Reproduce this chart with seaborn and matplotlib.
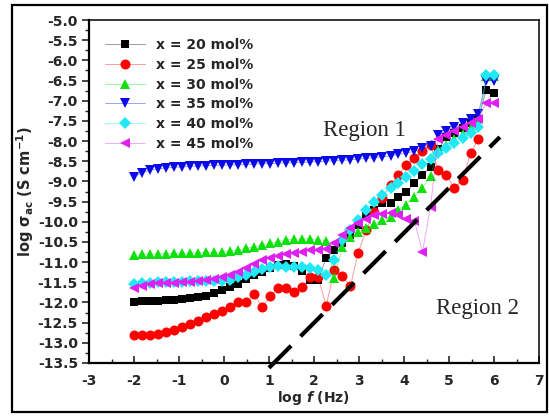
import numpy as np
import pandas as pd
import matplotlib
matplotlib.use("Agg")
import matplotlib.pyplot as plt
import matplotlib.colors as mcolors
import seaborn as sns
from matplotlib.patches import Rectangle
from matplotlib.ticker import MultipleLocator, FormatStrFormatter

sns.set_style("white")
plt.rcParams['font.family'] = ['DejaVu Sans']
plt.rcParams['axes.unicode_minus'] = False
plt.rcParams['mathtext.fontset'] = 'dejavusans'

# ---------------- data ----------------
log_f = [-2.00, -1.82, -1.64, -1.47, -1.29, -1.11, -0.93, -0.75, -0.58, -0.40,
         -0.22, -0.04, 0.14, 0.31, 0.49, 0.67, 0.85, 1.03, 1.20, 1.38,
         1.56, 1.74, 1.92, 2.09, 2.27, 2.45, 2.63, 2.81, 2.98, 3.16,
         3.34, 3.52, 3.70, 3.87, 4.05, 4.23, 4.41, 4.59, 4.76, 4.94,
         5.12, 5.30, 5.48, 5.65, 5.83, 6.01]

x20 = [-11.98, -11.97, -11.97, -11.96, -11.95, -11.94, -11.92, -11.90, -11.87, -11.83,
       -11.76, -11.69, -11.62, -11.53, -11.42, -11.33, -11.25, -11.15, -11.08, -11.05,
       -11.10, -11.22, -11.44, -11.44, -10.90, -10.70, -10.53, -10.33, -10.08, -9.85,
       -9.70, -9.54, -9.54, -9.38, -9.26, -9.05, -8.84, -8.64, -8.20, -7.90,
       -7.80, -7.68, -7.56, -7.45, -6.73, -6.81]

x25 = [-12.81, -12.81, -12.80, -12.77, -12.74, -12.68, -12.61, -12.54, -12.45, -12.37,
       -12.28, -12.20, -12.11, -12.00, -12.00, -11.79, -12.11, -11.84, -11.64, -11.64,
       -11.74, -11.62, -11.37, -11.37, -12.08, -11.20, -11.35, -11.60, -10.77, -10.20,
       -9.75, -9.40, -9.09, -8.84, -8.59, -8.43, -8.25, -8.10, -8.72, -8.84,
       -9.16, -8.97, -8.30, -7.95, np.nan, np.nan]

x30 = [-10.83, -10.80, -10.80, -10.79, -10.79, -10.78, -10.78, -10.77, -10.77, -10.76,
       -10.75, -10.74, -10.72, -10.70, -10.66, -10.62, -10.57, -10.53, -10.49, -10.45,
       -10.43, -10.42, -10.42, -10.44, -10.47, -11.40, -10.63, -10.38, -10.25, -10.15,
       -10.05, -9.95, -9.88, -9.70, -9.58, -9.38, -9.16, -8.86, -8.22, -8.10,
       -7.95, -7.82, -7.68, -7.55, -6.40, -6.40]

x35 = [-8.89, -8.78, -8.72, -8.69, -8.67, -8.65, -8.64, -8.63, -8.62, -8.61,
       -8.60, -8.60, -8.59, -8.59, -8.58, -8.57, -8.56, -8.56, -8.55, -8.54,
       -8.54, -8.53, -8.52, -8.51, -8.50, -8.49, -8.48, -8.46, -8.45, -8.43,
       -8.41, -8.39, -8.37, -8.33, -8.30, -8.25, -8.18, -8.12, -7.85, -7.75,
       -7.65, -7.55, -7.45, -7.32, -6.50, -6.52]

x40 = [-11.55, -11.52, -11.51, -11.50, -11.50, -11.49, -11.49, -11.48, -11.48, -11.48,
       -11.47, -11.46, -11.44, -11.38, -11.32, -11.25, -11.18, -11.12, -11.10, -11.12,
       -11.12, -11.12, -11.14, -11.20, -11.32, -10.95, -10.45, -10.20, -9.96, -9.70,
       -9.50, -9.34, -9.17, -9.03, -8.90, -8.75, -8.58, -8.45, -8.30, -8.17,
       -8.05, -7.93, -7.80, -7.65, -6.36, -6.36]

x45 = [-11.65, -11.58, -11.54, -11.52, -11.52, -11.51, -11.50, -11.49, -11.47, -11.45,
       -11.42, -11.38, -11.33, -11.25, -11.15, -11.05, -10.95, -10.89, -10.85, -10.81,
       -10.78, -10.75, -10.71, -10.70, -10.68, -10.53, -10.33, -10.15, -10.03, -9.92,
       -9.84, -9.80, -9.79, -9.84, -9.92, -9.98, -10.75, -9.63, -7.95, -7.85,
       -7.75, -7.65, -7.55, -7.45, -7.05, -7.05]

labels = ["x = 20 mol%", "x = 25 mol%", "x = 30 mol%",
          "x = 35 mol%", "x = 40 mol%", "x = 45 mol%"]
series = [x20, x25, x30, x35, x40, x45]
colors = ["#000000", "#ff0000", "#10e010", "#0a0ae8", "#20e8f4", "#e020f0"]
markers = ["s", "o", "^", "v", "D", "<"]
msizes = [6.3, 7.2, 7.5, 7.5, 6.6, 7.5]

x_ticks = [-3, -2, -1, 0, 1, 2, 3, 4, 5, 6, 7]

# dashed guide line end points
guide_x = [1.0, 6.13]
guide_y = [-13.62, -7.90]

# ---------------- figure ----------------
fig = plt.figure(figsize=(5.49, 4.16), dpi=100)
fig.patch.set_facecolor("white")
ax = fig.add_axes([89/549, 1-363/416, 450/549, 343/416])

for vals, lab, c, m, ms in zip(series, labels, colors, markers, msizes):
    df = pd.DataFrame({"x": log_f, "y": vals}).dropna()
    sns.lineplot(data=df, x="x", y="y", ax=ax, color=c, marker=m,
                 markersize=ms, markeredgewidth=0, linewidth=0.6,
                 label=lab, sort=False, estimator=None)
    line = ax.lines[-1]
    rgba = mcolors.to_rgba(c)
    line.set_color((rgba[0], rgba[1], rgba[2], 0.45))
    line.set_markerfacecolor(c)
    line.set_markeredgecolor(c)

ax.plot(guide_x, guide_y, color="black", lw=3.0, dashes=(7.5, 3.2),
        clip_on=False, solid_capstyle="butt", dash_capstyle="butt")

ax.set_xlim(-3, 7)
ax.set_ylim(-13.5, -5.0)
ax.set_xticks(x_ticks)
ax.xaxis.set_minor_locator(MultipleLocator(0.5))
ax.yaxis.set_major_locator(MultipleLocator(0.5))
ax.yaxis.set_minor_locator(MultipleLocator(0.25))
ax.yaxis.set_major_formatter(FormatStrFormatter("%.1f"))

ax.tick_params(axis="x", which="major", direction="in", length=5, width=1.2,
               pad=8, labelsize=10, bottom=True, top=False)
ax.tick_params(axis="x", which="minor", direction="in", length=3, width=1.0,
               bottom=True, top=False)
ax.tick_params(axis="y", which="major", direction="out", length=5, width=1.2,
               pad=3, labelsize=10, left=True, right=False)
ax.tick_params(axis="y", which="minor", direction="out", length=3, width=1.0,
               left=True, right=False)
for lab in ax.get_xticklabels() + ax.get_yticklabels():
    lab.set_fontweight("bold")

for side in ["left", "bottom"]:
    ax.spines[side].set_linewidth(1.6)
for side in ["top", "right"]:
    ax.spines[side].set_linewidth(1.1)
for s in ax.spines.values():
    s.set_color("black")
    s.set_visible(True)

ax.set_xlabel(r"log $\mathbfit{f}$ (Hz)", fontsize=10, fontweight="bold")
ax.set_ylabel(r"log σ$_{\mathbf{ac}}$ (S cm$^{\mathbf{-1}}$)", fontsize=10.5,
              fontweight="bold")
ax.xaxis.set_label_coords(0.5, -0.075)
ax.xaxis.label.set_va("top")
ax.yaxis.set_label_coords(-0.118, 0.5)

handles, labs = ax.get_legend_handles_labels()
ax.legend(handles, labs, loc="upper left", bbox_to_anchor=(0.036, 0.948),
          frameon=False, borderpad=0, borderaxespad=0, handlelength=2.9,
          handletextpad=0.75, labelspacing=0.42,
          prop={"weight": "bold", "size": 10, "family": "DejaVu Sans"})

ax.text(3.13, -7.75, "Region 1", fontsize=16.5, family="Liberation Serif",
        ha="center", va="center")
ax.text(5.64, -12.16, "Region 2", fontsize=16.5, family="Liberation Serif",
        ha="center", va="center")

fig.patches.append(Rectangle((12/549, 1-412/416), 535/549, 407/416,
                             transform=fig.transFigure, fill=False,
                             edgecolor="black", linewidth=1.6))

fig.savefig("out.png", dpi=100, facecolor="white")
